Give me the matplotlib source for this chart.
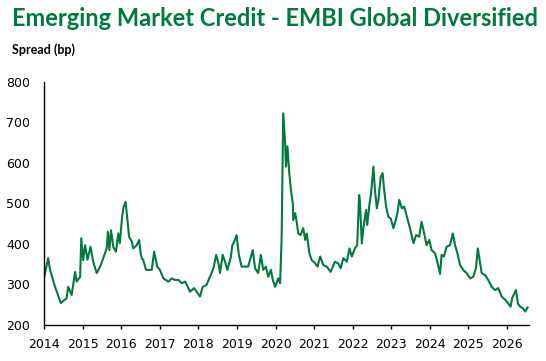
import matplotlib
matplotlib.use("Agg")
import matplotlib.pyplot as plt

# spread (fractional year, bp)
dates = [
    2014.00, 2014.10, 2014.15, 2014.28, 2014.43, 2014.58, 2014.62, 2014.71, 2014.80, 2014.84,
    2014.93, 2014.96, 2015.01, 2015.06, 2015.12, 2015.20, 2015.27, 2015.36, 2015.45, 2015.53,
    2015.62, 2015.65, 2015.69, 2015.73, 2015.79, 2015.86, 2015.92, 2015.96, 2016.02, 2016.06,
    2016.11, 2016.15, 2016.20, 2016.27, 2016.31, 2016.40, 2016.46, 2016.50, 2016.53, 2016.57,
    2016.64, 2016.79, 2016.85, 2016.93, 2017.00, 2017.09, 2017.22, 2017.31, 2017.39, 2017.48,
    2017.57, 2017.65, 2017.70, 2017.76, 2017.78, 2017.89, 2018.04, 2018.11, 2018.21, 2018.30,
    2018.39, 2018.46, 2018.52, 2018.56, 2018.63, 2018.69, 2018.75, 2018.84, 2018.88, 2018.93,
    2018.99, 2019.05, 2019.12, 2019.21, 2019.29, 2019.41, 2019.47, 2019.55, 2019.62, 2019.68,
    2019.75, 2019.81, 2019.88, 2019.93, 2019.99, 2020.07, 2020.12, 2020.16, 2020.20, 2020.25,
    2020.27, 2020.31, 2020.35, 2020.40, 2020.45, 2020.46, 2020.51, 2020.55, 2020.59, 2020.65,
    2020.72, 2020.77, 2020.81, 2020.88, 2020.94, 2021.03, 2021.09, 2021.16, 2021.24, 2021.33,
    2021.43, 2021.54, 2021.63, 2021.69, 2021.76, 2021.85, 2021.92, 2021.98, 2022.06, 2022.12,
    2022.17, 2022.19, 2022.24, 2022.28, 2022.35, 2022.38, 2022.44, 2022.48, 2022.54, 2022.58,
    2022.63, 2022.67, 2022.73, 2022.78, 2022.82, 2022.87, 2022.93, 2022.99, 2023.06, 2023.12,
    2023.17, 2023.21, 2023.28, 2023.34, 2023.41, 2023.49, 2023.58, 2023.65, 2023.73, 2023.79,
    2023.85, 2023.92, 2023.99, 2024.05, 2024.14, 2024.20, 2024.27, 2024.31, 2024.37, 2024.44,
    2024.53, 2024.60, 2024.66, 2024.72, 2024.79, 2024.87, 2024.96, 2025.05, 2025.13, 2025.20,
    2025.25, 2025.29, 2025.35, 2025.44, 2025.52, 2025.61, 2025.70, 2025.78, 2025.87, 2025.96,
    2026.04, 2026.10, 2026.14, 2026.24, 2026.29, 2026.35, 2026.42, 2026.48, 2026.54,
]
spread = [
    318, 364, 335, 293, 253, 265, 293, 273, 330, 306,
    318, 413, 359, 396, 360, 392, 355, 327, 343, 364,
    388, 429, 384, 433, 392, 380, 425, 401, 466, 491,
    503, 466, 417, 405, 388, 396, 409, 376, 364, 359,
    335, 335, 380, 343, 335, 314, 306, 314, 310, 310,
    302, 306, 298, 285, 281, 290, 269, 293, 298, 318,
    339, 372, 351, 327, 372, 355, 335, 366, 396, 405,
    421, 372, 343, 343, 343, 384, 339, 327, 372, 335,
    343, 318, 335, 310, 293, 314, 302, 417, 722, 648,
    590, 640, 582, 532, 499, 458, 475, 454, 425, 421,
    438, 409, 425, 376, 359, 351, 343, 368, 347, 343,
    330, 355, 351, 339, 364, 355, 388, 368, 388, 396,
    520, 505, 400, 438, 483, 446, 499, 524, 590, 532,
    487, 508, 565, 574, 532, 491, 466, 462, 438, 458,
    479, 508, 487, 491, 466, 438, 401, 421, 417, 454,
    429, 396, 409, 384, 376, 355, 325, 372, 368, 392,
    396, 425, 396, 376, 347, 335, 327, 314, 318, 339,
    388, 364, 327, 322, 310, 293, 285, 290, 269, 261,
    252, 244, 265, 285, 252, 244, 240, 232, 242,
]
years = list(range(2014, 2027))
yticks = [200, 300, 400, 500, 600, 700, 800]

green = "#007a3d"

fig = plt.figure(figsize=(5.46, 3.61), dpi=100)
ax = fig.add_axes([0.0811, 0.1011, 0.8872, 0.6726])

ax.plot(dates, spread, color=green, linewidth=1.5)

ax.set_xlim(2014, 2026.57)
ax.set_ylim(200, 800)
ax.set_xticks(years)
ax.set_xticklabels([str(y) for y in years])
ax.set_yticks(yticks)

for side in ["top", "right"]:
    ax.spines[side].set_visible(False)
for side in ["left", "bottom"]:
    ax.spines[side].set_linewidth(1.0)
ax.tick_params(axis="y", length=0, pad=10, labelsize=9)
ax.tick_params(axis="x", length=3, width=1.0, pad=7, labelsize=9)

fig.text(0.022, 0.948, "Emerging Market Credit - EMBI Global Diversified",
         color=green, fontsize=17, fontweight="bold", family="Lato",
         ha="left", va="center")
fig.text(0.022, 0.862, "Spread (bp)", color="black", fontsize=9,
         fontweight="bold", family="Lato", ha="left", va="center")

fig.savefig("out.png", dpi=100)
